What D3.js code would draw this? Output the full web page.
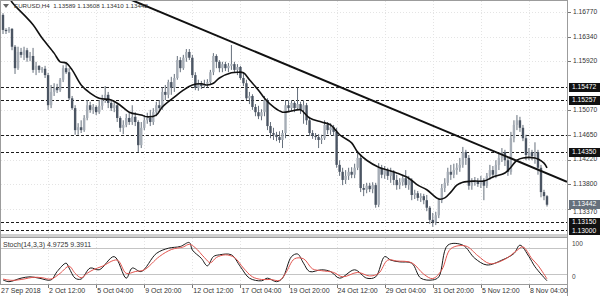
<!DOCTYPE html>
<html lang="en">
<head>
<meta charset="UTF-8" />
<title>EURUSD H4</title>
<script src="https://d3js.org/d3.v7.min.js"></script>
<style>
  body { margin: 0; background: #fff; }
  text { font-family: "Liberation Sans", Arial, sans-serif; }
</style>
</head>
<body>
<script>
var opens = [
  1.1672,1.1646,1.1644,1.1648,1.1617,1.1580,1.1608,1.1603,1.1611,1.1598,
  1.1601,1.1577,1.1584,1.1577,1.1579,1.1568,1.1516,1.1539,1.1546,1.1542,
  1.1560,1.1580,1.1573,1.1528,1.1511,1.1473,1.1478,1.1473,1.1494,1.1516,
  1.1508,1.1513,1.1504,1.1515,1.1525,1.1534,1.1520,1.1511,1.1516,1.1494,
  1.1477,1.1482,1.1494,1.1487,1.1496,1.1487,1.1447,1.1477,1.1490,1.1494,
  1.1487,1.1504,1.1516,1.1511,1.1539,1.1534,1.1556,1.1546,1.1563,1.1594,
  1.1580,1.1598,1.1608,1.1598,1.1568,1.1546,1.1554,1.1549,1.1553,1.1556,
  1.1573,1.1601,1.1591,1.1580,1.1587,1.1580,1.1584,1.1587,1.1577,1.1582,
  1.1563,1.1554,1.1528,1.1532,1.1513,1.1504,1.1497,1.1504,1.1525,1.1480,
  1.1468,1.1465,1.1461,1.1456,1.1468,1.1516,1.1511,1.1520,1.1511,1.1518,
  1.1508,1.1516,1.1490,1.1468,1.1463,1.1461,1.1456,1.1459,1.1482,1.1473,
  1.1478,1.1470,1.1413,1.1401,1.1387,1.1394,1.1401,1.1396,1.1408,1.1425,
  1.1373,1.1370,1.1377,1.1371,1.1378,1.1344,1.1408,1.1396,1.1404,1.1394,
  1.1401,1.1387,1.1378,1.1383,1.1390,1.1378,1.1387,1.1361,1.1364,1.1356,
  1.1359,1.1352,1.1339,1.1318,1.1314,1.1326,1.1352,1.1373,1.1382,1.1401,
  1.1396,1.1404,1.1408,1.1413,1.1435,1.1425,1.1377,1.1382,1.1385,1.1380,
  1.1387,1.1377,1.1394,1.1404,1.1396,1.1413,1.1425,1.1435,1.1421,1.1401,
  1.1459,1.1482,1.1490,1.1477,1.1459,1.1430,1.1435,1.1428,1.1435,1.1408,
  1.1366,1.13589
];
var highs = [
  1.1675,1.1649,1.1651,1.1649,1.1620,1.1617,1.1615,1.1617,1.1615,1.1608,
  1.1615,1.1591,1.1585,1.1582,1.1584,1.1572,1.1551,1.1554,1.1553,1.1563,
  1.1585,1.1591,1.1580,1.1532,1.1516,1.1485,1.1490,1.1499,1.1525,1.1522,
  1.1518,1.1516,1.1525,1.1534,1.1549,1.1539,1.1525,1.1522,1.1520,1.1497,
  1.1490,1.1501,1.1503,1.1516,1.1504,1.1490,1.1487,1.1499,1.1503,1.1508,
  1.1511,1.1522,1.1525,1.1547,1.1551,1.1560,1.1565,1.1570,1.1601,1.1599,
  1.1603,1.1613,1.1613,1.1603,1.1573,1.1560,1.1558,1.1560,1.1561,1.1577,
  1.1606,1.1604,1.1594,1.1591,1.1591,1.1589,1.1620,1.1591,1.1587,1.1584,
  1.1573,1.1560,1.1539,1.1535,1.1518,1.1515,1.1509,1.1532,1.1528,1.1487,
  1.1477,1.1470,1.1471,1.1473,1.1525,1.1525,1.1525,1.1523,1.1546,1.1522,
  1.1525,1.1520,1.1496,1.1473,1.1468,1.1466,1.1465,1.1490,1.1487,1.1485,
  1.1482,1.1477,1.1421,1.1408,1.1404,1.1408,1.1409,1.1415,1.1434,1.1430,
  1.1380,1.1382,1.1382,1.1383,1.1382,1.1416,1.1413,1.1411,1.1408,1.1408,
  1.1404,1.1396,1.1390,1.1396,1.1404,1.1394,1.1390,1.1370,1.1368,1.1364,
  1.1363,1.1361,1.1342,1.1330,1.1332,1.1356,1.1380,1.1390,1.1408,1.1413,
  1.1415,1.1416,1.1425,1.1444,1.1439,1.1430,1.1390,1.1392,1.1390,1.1394,
  1.1390,1.1399,1.1413,1.1411,1.1421,1.1434,1.1442,1.1439,1.1425,1.1470,
  1.1490,1.1499,1.1496,1.1482,1.1465,1.1442,1.1439,1.1452,1.1439,1.1413,
  1.1370,1.13608
];
var lows = [
  1.1639,1.1639,1.1641,1.1611,1.1570,1.1577,1.1598,1.1594,1.1591,1.1592,
  1.1572,1.1568,1.1572,1.1572,1.1563,1.1508,1.1511,1.1532,1.1537,1.1539,
  1.1556,1.1570,1.1525,1.1508,1.1465,1.1465,1.1468,1.1470,1.1490,1.1503,
  1.1501,1.1499,1.1501,1.1508,1.1520,1.1511,1.1506,1.1504,1.1487,1.1470,
  1.1466,1.1478,1.1482,1.1482,1.1480,1.1435,1.1442,1.1473,1.1484,1.1480,
  1.1482,1.1497,1.1504,1.1508,1.1525,1.1528,1.1534,1.1539,1.1560,1.1573,
  1.1577,1.1591,1.1594,1.1563,1.1542,1.1541,1.1544,1.1546,1.1547,1.1551,
  1.1568,1.1580,1.1573,1.1573,1.1575,1.1573,1.1577,1.1572,1.1568,1.1560,
  1.1549,1.1525,1.1518,1.1508,1.1497,1.1492,1.1490,1.1497,1.1473,1.1459,
  1.1456,1.1454,1.1451,1.1442,1.1459,1.1504,1.1506,1.1504,1.1508,1.1501,
  1.1484,1.1482,1.1463,1.1458,1.1456,1.1442,1.1449,1.1456,1.1466,1.1465,
  1.1463,1.1408,1.1394,1.1378,1.1380,1.1387,1.1390,1.1390,1.1404,1.1366,
  1.1359,1.1364,1.1366,1.1364,1.1339,1.1340,1.1390,1.1389,1.1387,1.1382,
  1.1378,1.1370,1.1371,1.1377,1.1373,1.1370,1.1352,1.1354,1.1351,1.1349,
  1.1345,1.1333,1.1311,1.1306,1.1309,1.1321,1.1347,1.1366,1.1377,1.1387,
  1.1390,1.1396,1.1401,1.1408,1.1413,1.1370,1.1370,1.1377,1.1375,1.1373,
  1.1352,1.1373,1.1387,1.1390,1.1390,1.1404,1.1418,1.1411,1.1394,1.1396,
  1.1452,1.1473,1.1470,1.1454,1.1421,1.1421,1.1421,1.1415,1.1396,1.1357,
  1.1352,1.13410
];
var closes = [
  1.1646,1.1644,1.1648,1.1617,1.1580,1.1608,1.1603,1.1611,1.1598,1.1601,
  1.1577,1.1584,1.1577,1.1579,1.1568,1.1516,1.1539,1.1546,1.1542,1.1560,
  1.1580,1.1573,1.1528,1.1511,1.1473,1.1478,1.1473,1.1494,1.1516,1.1508,
  1.1513,1.1504,1.1515,1.1525,1.1534,1.1520,1.1511,1.1516,1.1494,1.1477,
  1.1482,1.1494,1.1487,1.1496,1.1487,1.1447,1.1477,1.1490,1.1494,1.1487,
  1.1504,1.1516,1.1511,1.1539,1.1534,1.1556,1.1546,1.1563,1.1594,1.1580,
  1.1598,1.1608,1.1598,1.1568,1.1546,1.1554,1.1549,1.1553,1.1556,1.1573,
  1.1601,1.1591,1.1580,1.1587,1.1580,1.1584,1.1587,1.1577,1.1582,1.1563,
  1.1554,1.1528,1.1532,1.1513,1.1504,1.1497,1.1504,1.1525,1.1480,1.1468,
  1.1465,1.1461,1.1456,1.1468,1.1516,1.1511,1.1520,1.1511,1.1518,1.1508,
  1.1516,1.1490,1.1468,1.1463,1.1461,1.1456,1.1459,1.1482,1.1473,1.1478,
  1.1470,1.1413,1.1401,1.1387,1.1394,1.1401,1.1396,1.1408,1.1425,1.1373,
  1.1370,1.1377,1.1371,1.1378,1.1344,1.1408,1.1396,1.1404,1.1394,1.1401,
  1.1387,1.1378,1.1383,1.1390,1.1378,1.1387,1.1361,1.1364,1.1356,1.1359,
  1.1352,1.1339,1.1318,1.1314,1.1326,1.1352,1.1373,1.1382,1.1401,1.1396,
  1.1404,1.1408,1.1413,1.1435,1.1425,1.1377,1.1382,1.1385,1.1380,1.1387,
  1.1377,1.1394,1.1404,1.1396,1.1413,1.1425,1.1435,1.1421,1.1401,1.1459,
  1.1482,1.1490,1.1477,1.1459,1.1430,1.1435,1.1428,1.1435,1.1408,1.1366,
  1.1359,1.13442
];

// moving average at some bars
var maBars = [1,3,7,10,13,17,19,21,23,26,29,32,36,39,42,46,48,51,53,57,60,63,66,68,70,72,76,78,80,82,85,
  87,90,93,96,99,102,106,109,112,116,118,121,125,128,131,135,138,141,145,147,149,151,153,157,160,163,
  167,169,171,173,177,178,180,181];
var maValues = [1.1712,1.1694,1.1672,1.1655,1.1632,1.1606,1.1591,1.1589,1.1577,1.1551,1.1537,1.1528,1.1525,
  1.1516,1.1504,1.1499,1.1496,1.1499,1.1513,1.1530,1.1542,1.1551,1.1553,1.1551,1.1554,1.1563,1.1572,1.1573,
  1.1572,1.1560,1.1542,1.1528,1.1513,1.1504,1.1506,1.1508,1.1494,1.1487,1.1482,1.1465,1.1451,1.1435,1.1421,
  1.1409,1.1404,1.1399,1.1390,1.1378,1.1370,1.1354,1.1356,1.1366,1.1378,1.1383,1.1385,1.1385,1.1392,1.1399,
  1.1409,1.1421,1.1425,1.1425,1.1423,1.1416,1.1408];

// stochastic %K (black) and %D (red)
var kBars = [0,2,6,9,12,16,18,21,22,24,26,29,32,37,41,43,46,51,55,59,62,63,66,68,70,72,76,79,82,86,
  88,91,93,96,98,100,102,106,109,112,117,121,124,127,129,132,136,139,143,145,148,153,157,161,166,170,172,175,177,181];
var kValues = [7,3,11,14,11,7,26,45,34,11,9,34,30,60,11,34,26,67,79,83,92,75,56,39,60,64,64,37,11,5,
  11,3,11,60,66,45,26,30,26,11,30,11,14,60,52,48,45,11,7,14,86,86,56,41,52,67,86,60,37,4.97];
var dBars = [0,3,7,10,13,16,19,22,24,26,28,30,33,38,41,44,47,52,56,60,62,64,67,69,71,74,77,80,83,86,
  89,92,94,97,100,103,106,110,113,118,122,125,128,131,136,140,143,146,149,154,158,162,167,171,173,176,178,181];
var dValues = [9,6,9,13,12,9,22,38,22,12,22,30,38,52,22,26,30,60,76,82,88,80,58,46,58,64,58,34,14,8,
  8,6,22,55,55,32,28,24,14,24,16,22,52,50,46,20,10,30,78,84,62,44,54,74,82,55,40,9.39];

var priceTicks = [1.16770, 1.16340, 1.15920, 1.15070, 1.14650, 1.14220, 1.13800, 1.13370];
var levels = [1.15472, 1.15257, 1.14650, 1.14350, 1.13150, 1.13000];
var levelTags = [1.15472, 1.15257, 1.14350, 1.13150, 1.13000];
var lastPrice = 1.13442;
var trendBars = [50, 170];
var trendPrices = [1.1682, 1.1422];
var timeBars = [0, 15, 31, 47, 63, 79, 95, 111, 127, 143, 159, 175];
var timeLabels = ["27 Sep 2018", "2 Oct 12:00", "5 Oct 04:00", "9 Oct 20:00", "12 Oct 12:00", "17 Oct 04:00",
  "19 Oct 20:00", "24 Oct 12:00", "29 Oct 04:00", "31 Oct 20:00", "5 Nov 12:00", "8 Nov 04:00"];
var header = "EURUSD,H4  1.13589 1.13608 1.13410 1.13442";
var stochTitle = "Stoch(14,3,3) 4.9725 9.3911";

var width = 600, height = 296;
var paneRight = 567, mainBottom = 234, subTop = 237, subBottom = 284;

var x = d3.scaleLinear().domain([0, 181]).range([3, 547]);
var y = d3.scaleLinear().domain([1.1677, 1.13]).range([12, 230.3]);
var ys = d3.scaleLinear().domain([0, 100]).range([283, 239]);
var crisp = v => Math.round(v) + 0.5;

var svg = d3.select("body").append("svg")
  .attr("width", width)
  .attr("height", height);

svg.append("rect").attr("width", width).attr("height", height).attr("fill", "#fff");

var defs = svg.append("defs");
defs.append("clipPath").attr("id", "mainClip").append("rect")
  .attr("x", 1).attr("y", 1).attr("width", paneRight - 1).attr("height", mainBottom - 1);
defs.append("clipPath").attr("id", "subClip").append("rect")
  .attr("x", 1).attr("y", subTop).attr("width", paneRight - 1).attr("height", subBottom - subTop);

// grid
var grid = svg.append("g").attr("stroke", "#e4e4e4").attr("stroke-dasharray", "1,2");
grid.selectAll("line.h").data(priceTicks).join("line").attr("class", "h")
  .attr("x1", 1).attr("x2", paneRight)
  .attr("y1", d => crisp(y(d))).attr("y2", d => crisp(y(d)));
grid.selectAll("line.v").data(timeBars.slice(1)).join("line").attr("class", "v")
  .attr("x1", d => crisp(x(d))).attr("x2", d => crisp(x(d)))
  .attr("y1", 1).attr("y2", subBottom);

// horizontal levels
svg.append("g").attr("clip-path", "url(#mainClip)")
  .selectAll("line").data(levels).join("line")
  .attr("x1", 1).attr("x2", paneRight)
  .attr("y1", d => crisp(y(d))).attr("y2", d => crisp(y(d)))
  .attr("stroke", "#1c1c1c")
  .attr("stroke-dasharray", "3,2");

// candles
var bars = d3.range(opens.length);
var cg = svg.append("g").attr("clip-path", "url(#mainClip)");
cg.selectAll("line").data(bars).join("line")
  .attr("x1", i => x(i)).attr("x2", i => x(i))
  .attr("y1", i => y(highs[i])).attr("y2", i => y(lows[i]))
  .attr("stroke", "#66707c")
  .attr("stroke-width", 1);
cg.selectAll("rect").data(bars).join("rect")
  .attr("x", i => x(i) - 1.2)
  .attr("width", 2.4)
  .attr("y", i => y(Math.max(opens[i], closes[i])))
  .attr("height", i => Math.max(1, Math.abs(y(opens[i]) - y(closes[i]))))
  .attr("fill", i => closes[i] >= opens[i] ? "#a6adb6" : "#4b5563");

// moving average
var maLine = d3.line()
  .x(d => x(d[0]))
  .y(d => y(d[1]))
  .curve(d3.curveCatmullRom);
svg.append("path")
  .attr("clip-path", "url(#mainClip)")
  .attr("d", maLine(d3.zip(maBars, maValues)))
  .attr("fill", "none")
  .attr("stroke", "#111")
  .attr("stroke-width", 1.6);

// trend line ray
var slope = (trendPrices[1] - trendPrices[0]) / (trendBars[1] - trendBars[0]);
var b0 = x.invert(1), b1 = x.invert(paneRight);
svg.append("line")
  .attr("clip-path", "url(#mainClip)")
  .attr("x1", x(b0)).attr("y1", y(trendPrices[0] + slope * (b0 - trendBars[0])))
  .attr("x2", x(b1)).attr("y2", y(trendPrices[0] + slope * (b1 - trendBars[0])))
  .attr("stroke", "#111")
  .attr("stroke-width", 2);

// stochastic pane
svg.append("g").selectAll("line").data([80, 20]).join("line")
  .attr("x1", 1).attr("x2", paneRight)
  .attr("y1", d => crisp(ys(d))).attr("y2", d => crisp(ys(d)))
  .attr("stroke", "#c4c4c4");

var stLine = d3.line()
  .x(d => x(d[0]))
  .y(d => ys(d[1]))
  .curve(d3.curveCatmullRom);
var sg = svg.append("g").attr("clip-path", "url(#subClip)").attr("fill", "none");
sg.append("path").attr("d", stLine(d3.zip(kBars, kValues))).attr("stroke", "#1a1a1a").attr("stroke-width", 1);
sg.append("path").attr("d", stLine(d3.zip(dBars, dValues))).attr("stroke", "#e2554f").attr("stroke-width", 1);

svg.append("text")
  .attr("x", 3).attr("y", 245)
  .attr("dominant-baseline", "middle")
  .attr("font-size", 7)
  .attr("fill", "#333")
  .text(stochTitle);

// frame
svg.append("rect").attr("x", 0).attr("y", mainBottom).attr("width", paneRight + 1).attr("height", subTop - mainBottom)
  .attr("fill", "#d0d0d0");
svg.append("g").attr("stroke", "#9c9c9c")
  .call(g => g.append("line").attr("x1", 0).attr("x2", paneRight + 1).attr("y1", 0.5).attr("y2", 0.5))
  .call(g => g.append("line").attr("x1", 0.5).attr("x2", 0.5).attr("y1", 0).attr("y2", subBottom))
  .call(g => g.append("line").attr("x1", paneRight + 0.5).attr("x2", paneRight + 0.5).attr("y1", 0).attr("y2", height))
  .call(g => g.append("line").attr("x1", 0).attr("x2", paneRight + 1).attr("y1", subBottom + 0.5).attr("y2", subBottom + 0.5))
  .call(g => g.append("line").attr("x1", 0).attr("x2", paneRight + 1).attr("y1", subTop + 0.5).attr("y2", subTop + 0.5));

// price axis; the 1.13370 label sits just under the live price tag
var pa = svg.append("g").attr("font-size", 6.7).attr("fill", "#333");
pa.selectAll("line").data(priceTicks).join("line")
  .attr("x1", paneRight + 1).attr("x2", paneRight + 4)
  .attr("y1", d => crisp(y(d))).attr("y2", d => crisp(y(d)))
  .attr("stroke", "#777");
pa.selectAll("text").data(priceTicks).join("text")
  .attr("x", 573).attr("y", d => d === 1.13370 ? y(d) + 3.2 : y(d))
  .attr("dominant-baseline", "middle")
  .text(d => d.toFixed(5));

var tags = svg.append("g").attr("font-size", 6.7);
tags.selectAll("rect").data(levelTags).join("rect")
  .attr("x", 569).attr("width", 31)
  .attr("y", d => Math.round(y(d)) - 4).attr("height", 9)
  .attr("fill", "#111");
tags.selectAll("text").data(levelTags).join("text")
  .attr("x", 572).attr("y", d => y(d) + 0.5)
  .attr("dominant-baseline", "middle")
  .attr("fill", "#fff")
  .text(d => d.toFixed(5));

tags.append("rect")
  .attr("x", 569).attr("width", 31)
  .attr("y", Math.round(y(lastPrice)) - 5).attr("height", 9)
  .attr("fill", "#66707c");
tags.append("text")
  .attr("x", 572).attr("y", Math.round(y(lastPrice)) - 0.3)
  .attr("dominant-baseline", "middle")
  .attr("fill", "#fff")
  .text(lastPrice.toFixed(5));

// stochastic scale labels
svg.append("g").attr("font-size", 6.5).attr("fill", "#444")
  .selectAll("text").data([100, 0]).join("text")
  .attr("x", 572).attr("y", d => d === 100 ? 244 : 277)
  .attr("dominant-baseline", "middle")
  .text(d => d);

// time axis
var ta = svg.append("g").attr("font-size", 7).attr("fill", "#333");
ta.selectAll("line").data(timeBars.slice(1)).join("line")
  .attr("x1", d => crisp(x(d))).attr("x2", d => crisp(x(d)))
  .attr("y1", subBottom + 1).attr("y2", subBottom + 4)
  .attr("stroke", "#777");
ta.selectAll("text").data(timeBars).join("text")
  .attr("x", (d, i) => i === 0 ? 1 : x(d) + 1)
  .attr("y", 291)
  .attr("dominant-baseline", "middle")
  .text((d, i) => timeLabels[i]);

// header
svg.append("path").attr("d", "M3,4 L9,4 L6,8 Z").attr("fill", "#666");
svg.append("text")
  .attr("x", 14).attr("y", 6.5)
  .attr("dominant-baseline", "middle")
  .attr("font-size", 6.2)
  .attr("fill", "#333")
  .attr("xml:space", "preserve")
  .text(header);
</script>
</body>
</html>
